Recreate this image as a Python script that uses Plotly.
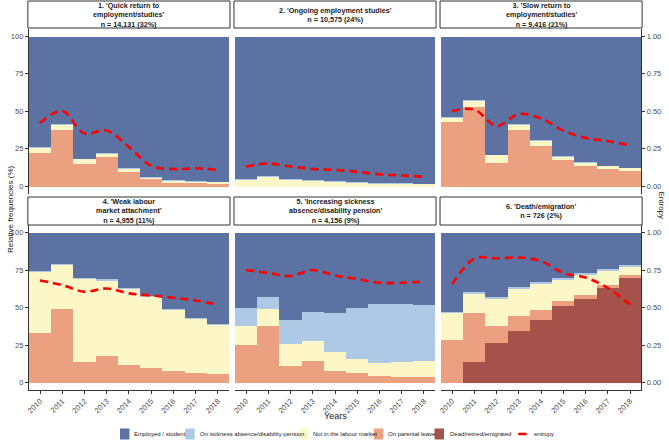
import plotly.graph_objects as go

W, H = 669, 440

years = [2010, 2011, 2012, 2013, 2014, 2015, 2016, 2017, 2018]

titles = [
    "<b>1. 'Quick return to<br>employment/studies'<br>n = 14,131 (32%)</b>",
    "<b>2. 'Ongoing employment studies'<br>n = 10,575 (24%)</b>",
    "<b>3. 'Slow return to<br>employment/studies'<br>n = 9,416 (21%)</b>",
    "<b>4. 'Weak labour<br>market attachment'<br>n = 4,955 (11%)</b>",
    "<b>5. 'Increasing sickness<br>absence/disability pension'<br>n = 4,156 (9%)</b>",
    "<b>6. 'Death/emigration'<br>n = 726 (2%)</b>",
]

state_names = ["Employed / student", "On sickness absence/disability pension",
               "Not in the labour market", "On parental leave", "Dead/retired/emigrated"]
state_colors = ["#5B72A3", "#ADC9E6", "#FDF7C8", "#EBA07F", "#A5524A"]

# Relative frequencies (%) per cluster, per state
dead = [
    [0, 0, 0, 0, 0, 0, 0, 0, 0],
    [0, 0, 0, 0, 0, 0, 0, 0, 0],
    [0, 0, 0, 0, 0, 0, 0, 0, 0],
    [0, 0, 0, 0, 0, 0, 0, 0, 0],
    [0, 0, 0, 0, 0, 0, 0, 0, 0],
    [0, 13.6, 26.3, 34.6, 42.0, 51.3, 55.8, 63.4, 70.3],
]
parental = [
    [22.2, 37.5, 15.0, 19.5, 9.5, 5.1, 2.9, 2.4, 1.8],
    [0, 0, 0, 0, 0, 0, 0, 0, 0],
    [42.9, 53.3, 15.8, 38.0, 27.3, 17.8, 14.0, 11.6, 10.2],
    [33.0, 48.9, 14.0, 17.4, 11.8, 9.6, 7.4, 6.5, 5.8],
    [25.2, 37.9, 10.7, 14.1, 8.0, 6.5, 4.5, 3.6, 3.6],
    [28.6, 32.8, 11.6, 10.0, 6.2, 2.9, 2.7, 1.3, 1.1],
]
notlabour = [
    [3.8, 4.0, 3.4, 2.7, 2.3, 0.7, 0.9, 1.2, 1.3],
    [4.7, 6.7, 4.7, 4.0, 3.6, 2.7, 2.0, 2.0, 1.8],
    [3.3, 4.0, 5.3, 3.3, 3.4, 2.4, 2.2, 2.2, 2.2],
    [40.7, 29.7, 55.2, 50.9, 50.9, 47.8, 41.3, 36.4, 32.8],
    [12.7, 10.8, 15.2, 13.4, 12.1, 9.3, 8.4, 9.8, 10.9],
    [17.8, 13.0, 17.9, 17.9, 17.2, 13.9, 13.2, 9.4, 5.6],
]
sick = [
    [0.2, 0.3, 0.2, 0.3, 0.3, 0.3, 0.3, 0.3, 0.2],
    [0.2, 0.2, 0.2, 0.2, 0.2, 0.2, 0.2, 0.2, 0.2],
    [0.2, 0.2, 0.2, 0.2, 0.2, 0.2, 0.2, 0.2, 0.2],
    [0.4, 0.4, 0.4, 0.4, 0.4, 0.4, 0.4, 0.4, 0.4],
    [11.7, 8.0, 16.1, 19.8, 26.3, 33.8, 39.6, 39.1, 37.5],
    [0.7, 1.1, 1.3, 1.3, 1.6, 1.8, 1.5, 1.8, 1.1],
]
employed = [
    [73.8, 58.2, 81.4, 77.5, 87.9, 93.9, 95.9, 96.1, 96.7],
    [95.1, 93.1, 95.1, 95.8, 96.2, 97.1, 97.8, 97.8, 98.0],
    [53.6, 42.5, 78.7, 58.5, 69.1, 79.6, 83.6, 86.0, 87.4],
    [25.9, 21.0, 30.4, 31.3, 36.9, 42.2, 50.9, 56.7, 61.0],
    [50.4, 43.3, 58.0, 52.7, 53.6, 50.4, 47.5, 47.5, 48.0],
    [52.9, 39.5, 42.9, 36.2, 33.0, 30.1, 26.8, 24.1, 21.9],
]
entropy = [
    [0.42, 0.50, 0.35, 0.37, 0.26, 0.135, 0.113, 0.118, 0.107],
    [0.13, 0.15, 0.13, 0.113, 0.107, 0.095, 0.078, 0.07, 0.062],
    [0.50, 0.51, 0.40, 0.48, 0.45, 0.37, 0.32, 0.30, 0.27],
    [0.68, 0.65, 0.605, 0.627, 0.594, 0.58, 0.565, 0.547, 0.52],
    [0.75, 0.73, 0.71, 0.75, 0.714, 0.69, 0.665, 0.665, 0.674],
    [0.654, 0.826, 0.828, 0.833, 0.81, 0.73, 0.70, 0.63, 0.52],
]

pct_ticks = [0, 25, 50, 75, 100]
ent_ticks = [0, 0.25, 0.5, 0.75, 1.0]
ent_labels = ["0.00", "0.25", "0.50", "0.75", "1.00"]

# layout geometry in pixels
col_px = [(26, 227), (233, 434), (440, 641)]
row_px = [(28.5, 193.5), (225, 390)]   # panel top, bottom
strip_px = [(1, 28), (197, 225)]

def px_x(v):
    return v / W

def px_y(v):
    return 1 - v / H

FONT = "Liberation Sans, Arial, sans-serif"
TICKC = "#4D4D4D"
LINEC = "#333333"

fig = go.Figure()
layout = {}
shapes = []
annotations = []

for i in range(6):
    r, c = divmod(i, 3)
    n = i + 1
    xa = "x" if n == 1 else f"x{n}"
    ya = "y" if n == 1 else f"y{n}"
    ya2 = f"y{n + 6}"
    stacks = [(dead[i], 4), (parental[i], 3), (notlabour[i], 2), (sick[i], 1), (employed[i], 0)]
    for vals, k in stacks:
        fig.add_trace(go.Bar(
            x=years, y=vals, width=1.0, xaxis=xa, yaxis=ya,
            marker=dict(color=state_colors[k], line=dict(width=0)),
            name=state_names[k], showlegend=False, hoverinfo="skip",
        ))
    fig.add_trace(go.Scatter(
        x=years, y=entropy[i], xaxis=xa, yaxis=ya2, mode="lines",
        line=dict(color="#FF0000", width=2.6, dash="8px,5px", shape="spline", smoothing=1.0),
        name="entropy", showlegend=False, hoverinfo="skip",
    ))

    bottom = (r == 1)
    left = (c == 0)
    right = (c == 2)
    x0, x1 = col_px[c]
    t, b = row_px[r]
    layout["xaxis" if n == 1 else f"xaxis{n}"] = dict(
        domain=[px_x(x0), px_x(x1)], anchor=ya, range=[2009.5, 2018.5],
        tickvals=years, ticktext=[str(y) for y in years],
        showticklabels=bottom, ticks="outside" if bottom else "",
        ticklen=3, tickwidth=0.8, tickcolor=LINEC, tickangle=-45,
        tickfont=dict(size=7.5, color=TICKC, family=FONT),
        showline=bottom, linecolor=LINEC, linewidth=1,
        showgrid=False, zeroline=False, fixedrange=True,
    )
    layout["yaxis" if n == 1 else f"yaxis{n}"] = dict(
        domain=[px_y(b), px_y(t)], anchor=xa, range=[-5, 105],
        tickvals=pct_ticks, ticktext=[str(v) for v in pct_ticks],
        showticklabels=left, ticks="outside" if left else "",
        ticklen=3, tickwidth=0.8, tickcolor=LINEC,
        tickfont=dict(size=7.5, color=TICKC, family=FONT),
        showline=left, linecolor=LINEC, linewidth=1,
        showgrid=False, zeroline=False, fixedrange=True,
    )
    layout[f"yaxis{n + 6}"] = dict(
        overlaying=ya, anchor=xa, side="right", range=[-0.05, 1.05],
        tickvals=ent_ticks, ticktext=ent_labels,
        showticklabels=right, ticks="outside" if right else "",
        ticklen=3, tickwidth=0.8, tickcolor=LINEC,
        tickfont=dict(size=7.5, color=TICKC, family=FONT),
        showline=right, linecolor=LINEC, linewidth=1,
        showgrid=False, zeroline=False, fixedrange=True, visible=right,
    )

    st, sb = strip_px[r]
    shapes.append(dict(type="rect", xref="paper", yref="paper",
                       x0=px_x(x0 - 1), x1=px_x(x1 + 1), y0=px_y(sb), y1=px_y(st),
                       line=dict(color=LINEC, width=1), fillcolor="white", layer="above"))
    annotations.append(dict(xref="paper", yref="paper", x=px_x((x0 + x1) / 2),
                            y=px_y((st + sb) / 2), text=titles[i], showarrow=False,
                            xanchor="center", yanchor="middle",
                            font=dict(size=7.2, color="#1A1A1A", family=FONT)))

# axis titles
annotations.append(dict(xref="paper", yref="paper", x=px_x(334), y=px_y(416),
                        text="Years", showarrow=False, xanchor="center", yanchor="middle",
                        font=dict(size=9, color="#1A1A1A", family=FONT)))
annotations.append(dict(xref="paper", yref="paper", x=px_x(7), y=px_y(209),
                        text="Relative frequencies (%)", showarrow=False, textangle=-90,
                        xanchor="center", yanchor="middle",
                        font=dict(size=8, color="#1A1A1A", family=FONT)))
annotations.append(dict(xref="paper", yref="paper", x=1.0, y=px_y(205),
                        text="Entropy", showarrow=False, textangle=90,
                        xanchor="right", yanchor="middle", xshift=-2,
                        font=dict(size=8, color="#1A1A1A", family=FONT)))

# legend (drawn manually to match compact ggplot legend)
leg_sq_x = [117.5, 183, 297.5, 372.5, 433.5]
leg_tx_x = [130, 195.5, 309.5, 385, 447]
leg_cy = 434
for k in range(5):
    shapes.append(dict(type="rect", xref="paper", yref="paper",
                       x0=px_x(leg_sq_x[k]), x1=px_x(leg_sq_x[k] + 9.5),
                       y0=px_y(leg_cy + 5.5), y1=px_y(leg_cy - 5.5),
                       line=dict(width=0), fillcolor=state_colors[k]))
    annotations.append(dict(xref="paper", yref="paper", x=px_x(leg_tx_x[k]), y=px_y(leg_cy),
                            text=state_names[k], showarrow=False, xanchor="left", yanchor="middle",
                            font=dict(size=6, color="#1A1A1A", family=FONT)))
shapes.append(dict(type="line", xref="paper", yref="paper",
                   x0=px_x(517.5), x1=px_x(526), y0=px_y(leg_cy), y1=px_y(leg_cy),
                   line=dict(color="#FF0000", width=2.5)))
annotations.append(dict(xref="paper", yref="paper", x=px_x(531), y=px_y(leg_cy),
                        text="entropy", showarrow=False, xanchor="left", yanchor="middle",
                        font=dict(size=6, color="#1A1A1A", family=FONT)))

fig.update_layout(
    width=W, height=H, margin=dict(l=0, r=0, t=0, b=0),
    paper_bgcolor="white", plot_bgcolor="white",
    barmode="stack", bargap=0, showlegend=False,
    font=dict(family=FONT),
    shapes=shapes, annotations=annotations,
    **layout,
)

fig.write_html("out.html", config={"displayModeBar": False})
